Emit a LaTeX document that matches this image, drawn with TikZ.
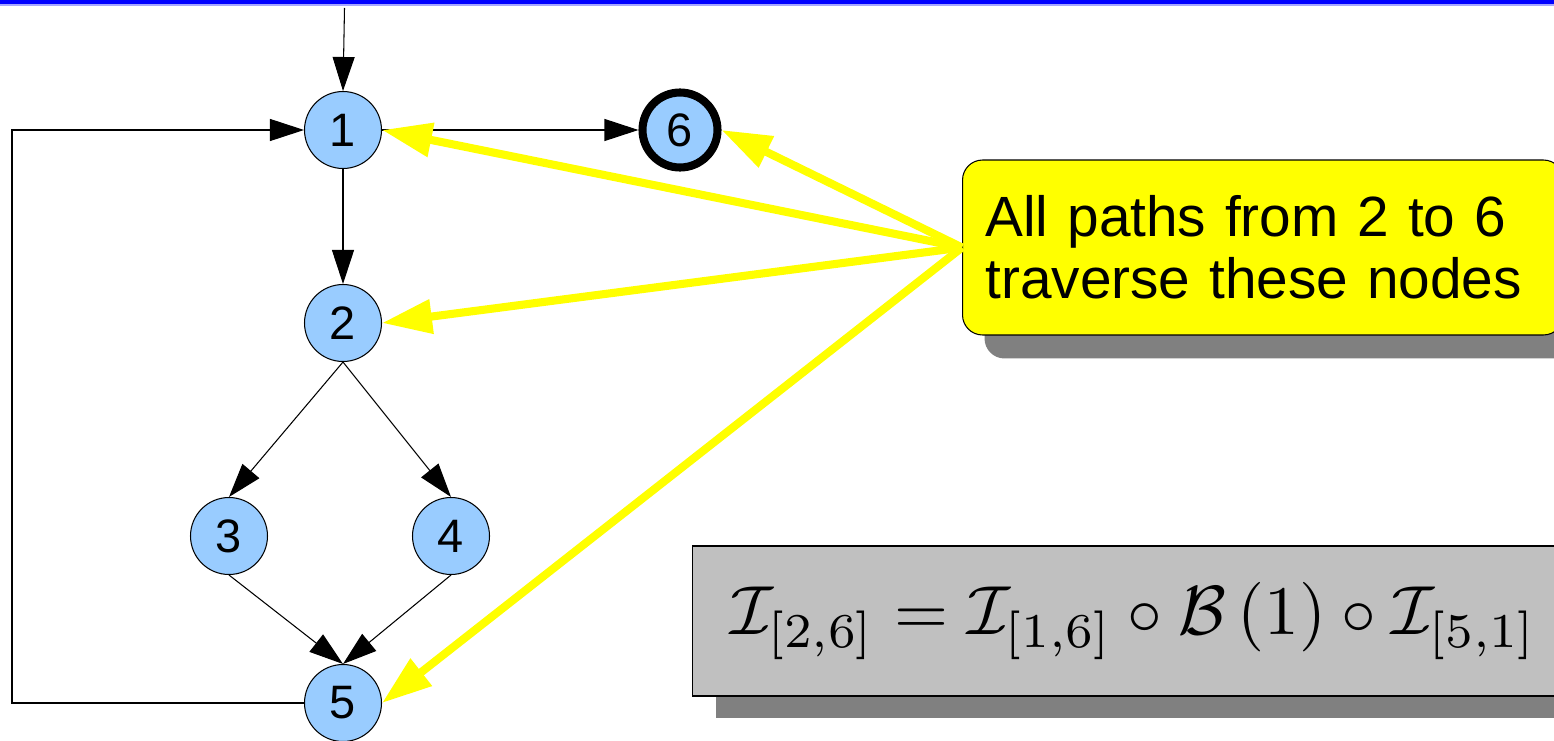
\documentclass[tikz,border=0pt]{standalone}
\usepackage[no-math]{fontspec}
\usepackage{amsmath,amssymb}
\usepackage{graphicx}
\usepackage{xcolor}
\usepackage{tikz}
\newfontfamily\labelfont{Liberation Sans}
\usetikzlibrary{arrows.meta, positioning, shadows, calc}

\definecolor{nodeblue}{RGB}{153,204,255}
\definecolor{hintyellow}{RGB}{255,255,0}
\definecolor{formulagray}{RGB}{192,192,192}
\definecolor{shadowgray}{RGB}{128,128,128}

\tikzset{
  block/.style={circle, draw=black, line width=0.6pt, fill=nodeblue, minimum size=1.54cm,
    inner sep=0pt, font=\labelfont\fontsize{26.7pt}{32pt}\selectfont},
  exitblock/.style={block, line width=4.6pt, minimum size=1.5cm},
  edge/.style={-{Triangle[length=0.68cm,width=0.44cm]}, line width=0.6pt},
  hint/.style={-{Triangle[length=1cm,width=0.66cm]}, draw=hintyellow, line width=4.6pt},
  note/.style={draw=black, line width=0.6pt, fill=hintyellow, rounded corners=0.4cm,
    text width=11.1cm, align=left, inner xsep=0.46cm, minimum height=3.5cm,
    font=\labelfont\fontsize{32.3pt}{35.2pt}\selectfont,
    drop shadow={shadow xshift=0.44cm, shadow yshift=-0.47cm, fill=shadowgray, opacity=1}},
  formulabox/.style={draw=black, line width=0.6pt, fill=formulagray,
    text width=17cm, align=left, inner xsep=0.76cm, minimum height=3cm,
    drop shadow={shadow xshift=0.46cm, shadow yshift=-0.44cm, fill=shadowgray, opacity=1}}
}

\begin{document}
\begin{tikzpicture}[x=0.02cm, y=-0.02cm]
	\useasboundingbox (0,0) rectangle (1554,740);
	\clip (0,0) rectangle (1554,740);
	% slide header line
	\fill[blue] (0,0) rectangle (1554,4);
	\draw[blue!35, line width=0.6pt] (0,5) -- (1554,5);
	% control flow graph
	\node[block] (n1) at (343,130) {1};
	\node[exitblock] (n6) at (680,130) {6};
	\node[block] (n2) at (343,323) {2};
	\node[block] (n3) at (229,536) {3};
	\node[block] (n4) at (451,536) {4};
	\node[block] (n5) at (343,703) {5};
	\coordinate (entry) at (344.5,8);
	\coordinate (loopcorner) at (12,703);
	\draw[edge] (entry) -- (n1.north);
	\draw[edge] (n1) -- (n6);
	\draw[edge] (n1) -- (n2);
	\draw[edge] (n2.south) -- (n3.north);
	\draw[edge] (n2.south) -- (n4.north);
	\draw[edge] (n3.south) -- (n5.north);
	\draw[edge] (n4.south) -- (n5.north);
	\draw[edge] (n5.west) -- (loopcorner) |- (n1.west);
	% callout and formula
	\node[note, anchor=west] (note) at (962,247.5) {All paths from 2 to 6\\traverse these nodes};
	\node[formulabox, anchor=west] (formula) at (692,621)
	{\resizebox{16.12cm}{!}{$\mathcal{I}_{[2,6]} = \mathcal{I}_{[1,6]} \circ \mathcal{B}\left(1\right) \circ \mathcal{I}_{[5,1]}$}};
	\foreach \target in {n1, n6, n2, n5}
	\draw[hint] (note.west) -- (\target.east);
\end{tikzpicture}
\end{document}
